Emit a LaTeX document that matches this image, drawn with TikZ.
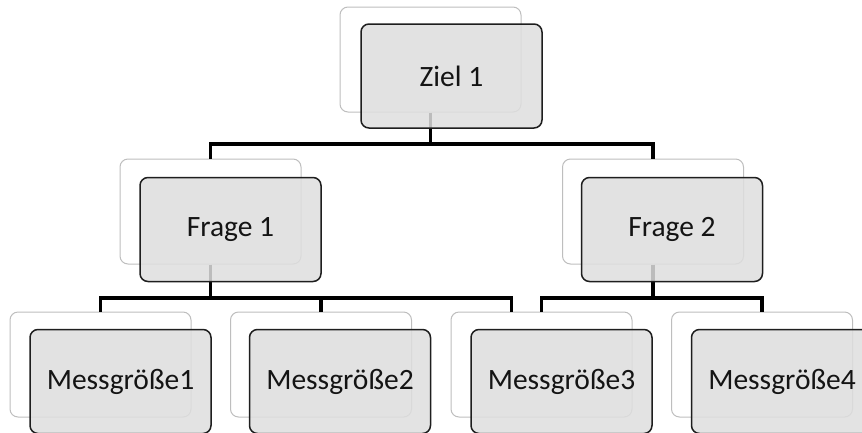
\documentclass[tikz,border=0pt]{standalone}
\usepackage{fontspec}
\setmainfont{Carlito}
\usetikzlibrary{calc}
\definecolor{backline}{RGB}{190,190,190}
\definecolor{frontfill}{RGB}{222,222,222}
\definecolor{frontline}{RGB}{30,30,30}
\definecolor{txt}{RGB}{20,20,20}
\tikzset{
  backbox/.style={draw=backline, line width=1pt, fill=white, rounded corners=8pt,
    minimum width=181pt, minimum height=105pt, inner sep=0pt},
  frontbox/.style={draw=frontline, line width=1.5pt, fill=frontfill, fill opacity=0.85,
    text opacity=1, text=txt, rounded corners=8pt,
    minimum width=181pt, minimum height=104pt, inner sep=0pt,
    font=\fontsize{29.5}{34}\selectfont},
  conn/.style={draw=black, line width=3.4pt}
}
\begin{document}
\begin{tikzpicture}[x=1pt,y=-1pt]
\useasboundingbox (0,0) rectangle (862,432);
% back boxes
\node[backbox] (zb) at (430.5,59.5) {};
\node[backbox] (f1b) at (210.5,211.5) {};
\node[backbox] (f2b) at (653,211.5) {};
\node[backbox] (m1b) at (100.5,364.5) {};
\node[backbox] (m2b) at (321,364.5) {};
\node[backbox] (m3b) at (541.5,364.5) {};
\node[backbox] (m4b) at (762,364.5) {};
% junctions
\coordinate (j0) at (430.5,144);
\coordinate (j1) at (210.5,298);
\coordinate (j2) at (653,298);
% connectors
\draw[conn] (zb.south) -- (j0);
\draw[conn] (f1b.north) |- (j0) -| (f2b.north);
\draw[conn] (f1b.south) -- (j1);
\draw[conn] (m1b.north) |- (j1) -| (m2b.north);
\draw[conn] (j1) -| ([xshift=61pt]m3b.north west);
\draw[conn] (f2b.south) -- (j2);
\draw[conn] (m3b.north) |- (j2) -| (m4b.north);
% front boxes
\node[frontbox] (z) at (451.5,76) {Ziel 1};
\node[frontbox] (f1) at (230.5,229.5) {Frage 1};
\node[frontbox] (f2) at (672,229.5) {Frage 2};
\node[frontbox] (m1) at (120.5,381.5) {Messgröße1};
\node[frontbox] (m2) at (340,381.5) {Messgröße2};
\node[frontbox] (m3) at (561.5,381.5) {Messgröße3};
\node[frontbox] (m4) at (782,381.5) {Messgröße4};
\end{tikzpicture}
\end{document}
